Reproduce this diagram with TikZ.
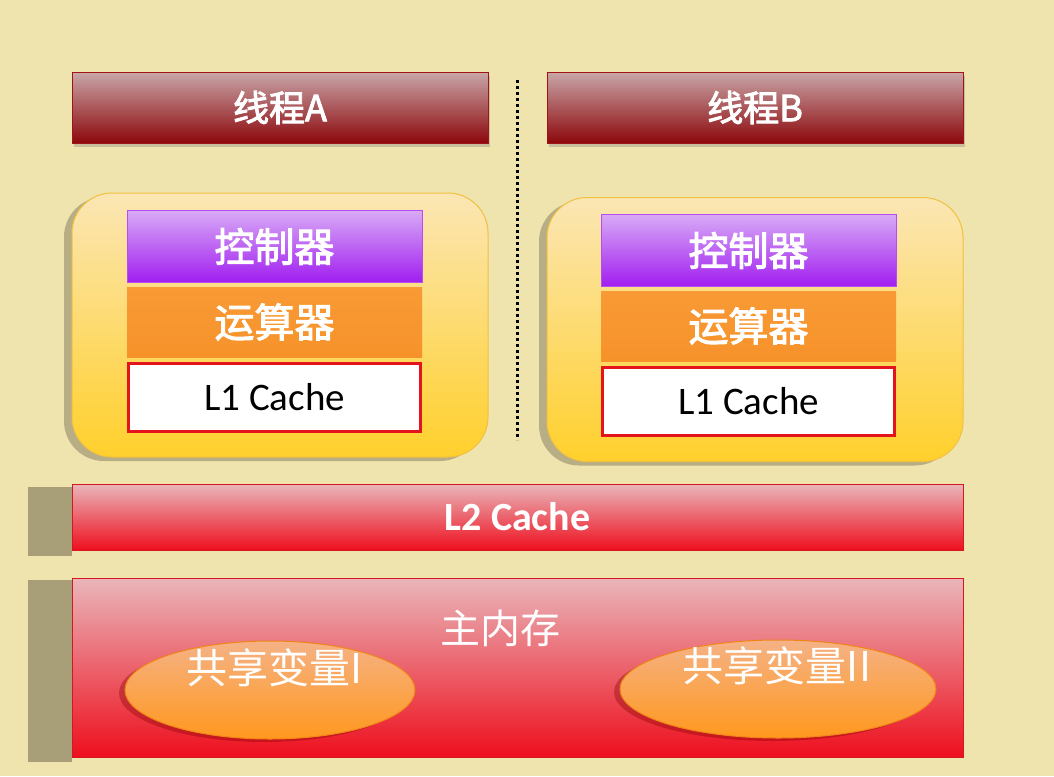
\documentclass[tikz,border=0pt]{standalone}
\usepackage{fontspec}
\newfontfamily\cjk{Noto Sans CJK SC}
\newfontfamily\cjkm[FakeBold=2.5]{Noto Sans CJK SC}
\newfontfamily\lat{Carlito}
\usetikzlibrary{shadows,shapes.geometric}
\definecolor{bg}{HTML}{EFE3AE}
\definecolor{olive}{HTML}{A89E78}
\definecolor{thrtop}{HTML}{C9A6A8}
\definecolor{thrbot}{HTML}{8C080C}
\definecolor{thrdraw}{HTML}{A01418}
\definecolor{yeltop}{HTML}{FBE6B4}
\definecolor{yelbot}{HTML}{FFD02C}
\definecolor{yeldraw}{HTML}{F2C040}
\definecolor{purtop}{HTML}{D8AAF6}
\definecolor{purbot}{HTML}{A11EF0}
\definecolor{orgtop}{HTML}{F89A35}
\definecolor{orgbot}{HTML}{F7922A}
\definecolor{cachered}{HTML}{E3141C}
\definecolor{redtop}{HTML}{E9B6BA}
\definecolor{redmid}{HTML}{E8505A}
\definecolor{redbot}{HTML}{EE0F1E}
\definecolor{reddraw}{HTML}{D41822}
\definecolor{elltop}{HTML}{F5B285}
\definecolor{ellbot}{HTML}{FF981E}
\definecolor{elldraw}{HTML}{F08418}
\tikzset{
  every node/.style={inner sep=0pt, outer sep=0pt},
  threadbar/.style={rectangle, draw=thrdraw, line width=1pt, top color=thrtop, bottom color=thrbot,
     minimum width=416pt, minimum height=71pt, text=white, font=\cjkm\fontsize{36}{36}\selectfont,
     drop shadow={shadow xshift=2pt, shadow yshift=-4pt, opacity=0.35}},
  corebox/.style={rectangle, rounded corners=40pt, draw=yeldraw, line width=1pt, top color=yeltop, bottom color=yelbot,
     minimum width=416pt, minimum height=264pt,
     drop shadow={shadow xshift=-8pt, shadow yshift=-4pt, opacity=0.45, fill=olive!70!black}},
  ctrlbox/.style={rectangle, draw=purbot!80!white, line width=1pt, top color=purtop, bottom color=purbot,
     minimum width=295pt, minimum height=72pt, text=white, font=\cjkm\fontsize{40}{40}\selectfont},
  alubox/.style={rectangle, top color=orgtop, bottom color=orgbot,
     minimum width=295pt, minimum height=70pt, text=white, font=\cjkm\fontsize{40}{40}\selectfont},
  l1box/.style={rectangle, draw=cachered, line width=3pt, fill=white,
     minimum width=292pt, minimum height=68pt, text=black, font=\lat\fontsize{39}{39}\selectfont},
  redbar/.style={rectangle, draw=reddraw, line width=1pt, shading=axis,
     top color=redtop, middle color=redmid, bottom color=redbot,
     minimum width=891pt, text=white},
  varell/.style={ellipse, draw=elldraw, line width=1pt, top color=elltop, bottom color=ellbot,
     drop shadow={shadow xshift=-6pt, shadow yshift=-3pt, opacity=0.35, fill=red!50!black}},
  vartext/.style={text=white, font=\cjk\fontsize{41}{41}\selectfont},
  strip/.style={fill=olive}
}
\begin{document}
\begin{tikzpicture}[x=1pt,y=-1pt]
\useasboundingbox (0,0) rectangle (1054,776);
\fill[bg] (0,0) rectangle (1054,776);

% threads
\node[threadbar] (ta) at (280,107.5) {线程A};
\node[threadbar] (tb) at (755,107.5) {线程B};
\coordinate (dtop) at (517,80);
\coordinate (dbot) at (517,440);
\draw[line width=3pt, dash pattern=on 3pt off 3pt] (dtop) -- (dbot);

% core boxes
\node[corebox] (ca) at (280,325) {};
\node[corebox] (cb) at (755,329.5) {};

% left core
\node[ctrlbox] (ctla) at (274.5,246.5) {控制器};
\node[alubox]  (alua) at (274.5,322) {运算器};
\node[l1box]   (l1a)  at (274.5,397.5) {L1 Cache};

% right core
\node[ctrlbox] (ctlb) at (748.5,250.5) {控制器};
\node[alubox]  (alub) at (748.5,326) {运算器};
\node[l1box]   (l1b)  at (748.5,401.5) {L1 Cache};

% L2 and memory
\fill[strip] (28,487) rectangle (72,556);
\fill[strip] (28,580) rectangle (72,762);
\node[redbar, minimum height=66pt, font=\lat\bfseries\fontsize{40}{40}\selectfont] (l2) at (517.5,517) {L2 Cache};
\node[redbar, minimum height=179pt] (mem) at (517.5,667.5) {};
\node[text=white, font=\cjk\fontsize{40}{40}\selectfont] (memt) at (500,628) {主内存};

\node[varell, minimum width=290pt, minimum height=98pt] (v1) at (270,690) {};
\node[vartext] (v1t) at (275,668) {共享变量I};
\node[varell, minimum width=316pt, minimum height=98pt] (v2) at (778,689) {};
\node[vartext] (v2t) at (777,666) {共享变量II};
\end{tikzpicture}
\end{document}
